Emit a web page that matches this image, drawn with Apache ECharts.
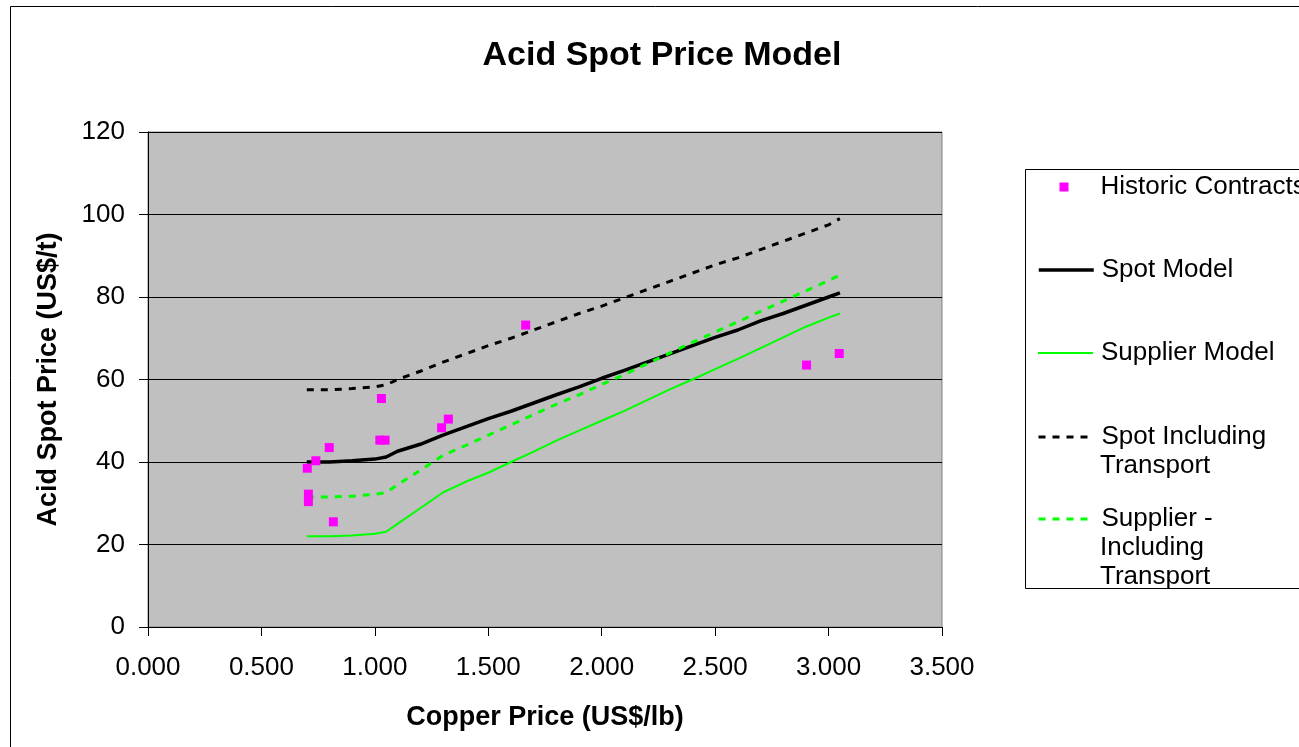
<!DOCTYPE html>
<html>
<head>
<meta charset="utf-8">
<script src="https://cdn.jsdelivr.net/npm/echarts@6/dist/echarts.min.js"></script>
<style>html,body{margin:0;padding:0;background:#fff}#c{width:1299px;height:747px}</style>
</head>
<body>
<div id="c"></div>
<script>
// Data
var copperPrice = [0.70, 0.80, 0.90, 1.00, 1.05, 1.10, 1.20, 1.30, 1.40, 1.50, 1.60, 1.70, 1.80, 1.90, 2.00, 2.10, 2.20, 2.30, 2.40, 2.50, 2.60, 2.70, 2.80, 2.90, 3.00, 3.05];
var spotModel = [40.0, 40.0, 40.3, 40.7, 41.2, 42.6, 44.3, 46.5, 48.5, 50.5, 52.3, 54.3, 56.3, 58.2, 60.3, 62.2, 64.2, 66.2, 68.2, 70.2, 72.0, 74.2, 76.0, 78.0, 80.0, 81.0];
var supplierModel = [22.0, 22.0, 22.2, 22.6, 23.1, 25.0, 28.8, 32.6, 35.2, 37.4, 40.0, 42.5, 45.2, 47.6, 50.0, 52.4, 55.0, 57.6, 60.0, 62.5, 65.0, 67.6, 70.2, 72.8, 75.0, 76.0];
var spotTransport = [57.5, 57.5, 57.8, 58.2, 58.7, 60.0, 62.0, 64.2, 66.2, 68.2, 70.0, 72.0, 74.0, 76.0, 77.8, 79.8, 81.8, 83.8, 85.8, 87.8, 89.5, 91.5, 93.5, 95.5, 97.5, 99.0];
var supplierTransport = [31.5, 31.5, 31.7, 32.2, 32.6, 34.5, 38.0, 41.6, 44.0, 46.5, 49.0, 51.5, 54.0, 56.3, 58.8, 61.2, 63.8, 66.4, 69.0, 71.5, 74.0, 76.5, 79.0, 81.5, 84.0, 85.3];
var histCopper = [0.702, 0.740, 0.799, 0.707, 0.707, 0.817, 1.029, 1.022, 1.045, 1.294, 1.324, 1.665, 2.903, 3.047];
var histAcid = [38.5, 40.3, 43.5, 32.2, 30.4, 25.5, 55.4, 45.3, 45.3, 48.3, 50.4, 73.2, 63.5, 66.3];
var xTicks = [0, 0.5, 1.0, 1.5, 2.0, 2.5, 3.0, 3.5];
var yTicks = [0, 20, 40, 60, 80, 100, 120];

function pairs(xs, ys) { return xs.map(function (x, i) { return [x, ys[i]]; }); }

var FONT = '"Liberation Sans", Arial, sans-serif';
var chart = echarts.init(document.getElementById('c'), null, {renderer: 'canvas'});

function legendAt(name, centerY, lineStyle) {
  var isScatter = !lineStyle;
  var leg = {
    show: true, orient: 'vertical', left: isScatter ? 1059.5 : 1037, top: centerY - 14.5, padding: 0,
    itemWidth: isScatter ? 9 : 55, itemHeight: isScatter ? 9 : 2, selectedMode: false,
    data: [isScatter ? {name: name, icon: 'rect'} : {name: name}],
    formatter: function (n) { return n.split('\n')[0]; },
    textStyle: {fontFamily: FONT, fontSize: 26, color: '#000', lineHeight: 29, padding: [0, 0, 0, isScatter ? 27 : 3]}
  };
  if (isScatter) {
    leg.itemStyle = {color: '#FF00FF', opacity: 1};
  } else {
    leg.itemStyle = {color: 'rgba(0,0,0,0)', borderColor: 'rgba(0,0,0,0)', borderWidth: 0, opacity: 0};
    leg.lineStyle = lineStyle;
  }
  return leg;
}

var option = {
  backgroundColor: '#fff',
  animation: false,
  title: {
    text: 'Acid Spot Price Model', left: 657, top: 34, textAlign: 'center',
    textStyle: {fontFamily: FONT, fontSize: 34, fontWeight: 'bold', color: '#000'}
  },
  grid: {left: 148, top: 132, width: 794, height: 495, show: true, backgroundColor: '#C0C0C0', borderColor: '#808080', borderWidth: 1, containLabel: false},
  legend: [
    legendAt('Historic Contracts', 187, null),
    legendAt('Spot Model', 270, {color: '#000', width: 3.5, type: 'solid', opacity: 1}),
    legendAt('Supplier Model', 353, {color: '#00FF00', width: 2, type: 'solid', opacity: 1}),
    legendAt('Spot Including\nTransport', 437, {color: '#000', width: 3, type: [7, 7], opacity: 1}),
    legendAt('Supplier -\nIncluding\nTransport', 519, {color: '#00FF00', width: 3, type: [7, 7], opacity: 1})
  ],
  xAxis: {
    type: 'value', min: 0, max: 3.5, interval: 0.5,
    name: 'Copper Price (US$/lb)', nameLocation: 'middle', nameGap: 77,
    nameTextStyle: {fontFamily: FONT, fontSize: 27, fontWeight: 'bold', color: '#000'},
    axisLine: {show: true, lineStyle: {color: '#000', width: 1}},
    axisTick: {show: true, length: 9, lineStyle: {color: '#000'}},
    axisLabel: {fontFamily: FONT, fontSize: 26, color: '#000', margin: 28,
      formatter: function (v) { return v.toFixed(3); }, customValues: xTicks},
    splitLine: {show: false}
  },
  yAxis: {
    type: 'value', min: 0, max: 120, interval: 20,
    name: 'Acid Spot Price (US$/t)', nameLocation: 'middle', nameGap: 86, nameRotate: 90,
    nameTextStyle: {fontFamily: FONT, fontSize: 27, fontWeight: 'bold', color: '#000'},
    axisLine: {show: true, lineStyle: {color: '#000', width: 1}},
    axisTick: {show: true, length: 9, lineStyle: {color: '#000'}},
    axisLabel: {fontFamily: FONT, fontSize: 26, color: '#000', margin: 23},
    splitLine: {show: true, lineStyle: {color: '#000', width: 1}}
  },
  series: [
    {name: 'Spot Model', type: 'line', data: pairs(copperPrice, spotModel), showSymbol: false, symbol: 'none',
      lineStyle: {color: '#000', width: 3.5}, itemStyle: {color: '#000'}, z: 3},
    {name: 'Supplier Model', type: 'line', data: pairs(copperPrice, supplierModel), showSymbol: false, symbol: 'none',
      lineStyle: {color: '#00FF00', width: 2}, itemStyle: {color: '#00FF00'}, z: 3},
    {name: 'Spot Including\nTransport', type: 'line', data: pairs(copperPrice, spotTransport), showSymbol: false, symbol: 'none',
      lineStyle: {color: '#000', width: 3, type: [7, 7]}, itemStyle: {color: '#000'}, z: 3},
    {name: 'Supplier -\nIncluding\nTransport', type: 'line', data: pairs(copperPrice, supplierTransport), showSymbol: false, symbol: 'none',
      lineStyle: {color: '#00FF00', width: 3, type: [7, 7]}, itemStyle: {color: '#00FF00'}, z: 3},
    {name: 'Historic Contracts', type: 'scatter', data: pairs(histCopper, histAcid), symbol: 'rect', symbolSize: 9,
      itemStyle: {color: '#FF00FF', opacity: 1}, z: 5}
  ],
  graphic: [
    {type: 'rect', shape: {x: 10.5, y: 6.5, width: 1400, height: 900}, style: {fill: null, stroke: '#000', lineWidth: 1}, silent: true, z: 0},
    {type: 'rect', shape: {x: 1025.5, y: 169.5, width: 400, height: 419}, style: {fill: '#fff', stroke: '#000', lineWidth: 1}, silent: true, z: -1},
    {type: 'text', x: 1100, y: 466, style: {text: 'Transport', font: '26px ' + FONT, fill: '#000', verticalAlign: 'middle'}, silent: true, z: 10},
    {type: 'text', x: 1100, y: 548, style: {text: 'Including', font: '26px ' + FONT, fill: '#000', verticalAlign: 'middle'}, silent: true, z: 10},
    {type: 'text', x: 1100, y: 577, style: {text: 'Transport', font: '26px ' + FONT, fill: '#000', verticalAlign: 'middle'}, silent: true, z: 10}
  ]
};
chart.setOption(option);
</script>
</body>
</html>
